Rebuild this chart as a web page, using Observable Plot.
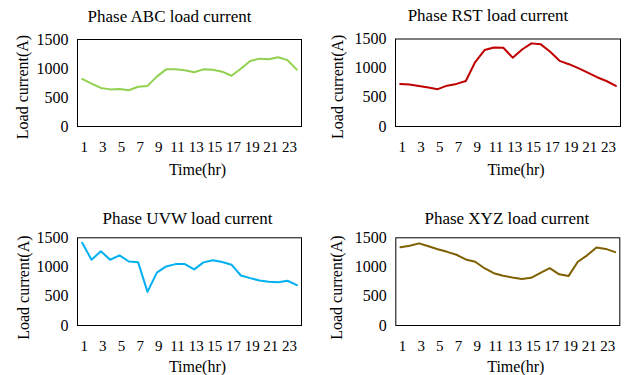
<!DOCTYPE html>
<html><head><meta charset="utf-8">
<script src="https://cdn.jsdelivr.net/npm/d3@7"></script>
<script src="https://cdn.jsdelivr.net/npm/@observablehq/plot@0.6"></script>
<style>
html,body{margin:0;padding:0;background:#fff;}
#grid{display:grid;grid-template-columns:316px 316px;width:632px;}
#grid svg{display:block;}
</style></head><body><div id="grid"></div>
<script>
const hours = [1,2,3,4,5,6,7,8,9,10,11,12,13,14,15,16,17,18,19,20,21,22,23,24];
const xTicks = [1,3,5,7,9,11,13,15,17,19,21,23];
const yTicks = [0,500,1000,1500];
const abc = [820,740,665,640,645,625,685,700,860,985,985,970,935,985,980,945,875,995,1130,1170,1160,1195,1145,980];
const rst = [730,720,695,667,640,700,730,780,1105,1310,1355,1350,1180,1320,1425,1408,1280,1126,1068,1000,925,845,780,695];
const uvw = [1415,1125,1270,1125,1200,1095,1080,575,905,1010,1050,1050,960,1080,1115,1085,1040,855,810,770,750,740,765,690];
const xyz = [1340,1365,1405,1355,1305,1260,1210,1130,1090,980,895,850,820,795,815,900,980,875,845,1090,1200,1335,1310,1255];
const titles = ["Phase ABC load current","Phase RST load current","Phase UVW load current","Phase XYZ load current"];
const yLabel = "Load current(A)";
const xLabel = "Time(hr)";

const panels = [
  {title:titles[0], values:abc, color:"#92d050", h:190, ml:77, mr:15, mt:39, mb:64, tdx:-20, tdy:-23, ldx:-55, ldy:4, xdy:43},
  {title:titles[1], values:rst, color:"#c00000", h:190, ml:79, mr:12, mt:38.5, mb:64, tdx:-20, tdy:-23, ldx:-58, ldy:4, xdy:43},
  {title:titles[2], values:uvw, color:"#00b0f0", h:185, ml:77, mr:15, mt:47.3, mb:50, tdx:-2, tdy:-19, ldx:-54, ldy:6, xdy:41},
  {title:titles[3], values:xyz, color:"#7f6000", h:185, ml:79.3, mr:12.7, mt:47.3, mb:50, tdx:-1, tdy:-19, ldx:-58.5, ldy:6, xdy:41}
];

const font = "'Liberation Serif', 'Times New Roman', serif";
const grid = document.getElementById("grid");
for (const p of panels) {
  const data = hours.map((h, i) => ({hour: h, value: p.values[i]}));
  const chart = Plot.plot({
    width: 316, height: p.h,
    marginLeft: p.ml, marginRight: p.mr, marginTop: p.mt, marginBottom: p.mb,
    style: {fontFamily: font, fontSize: "16px", color: "black", background: "white", overflow: "visible"},
    x: {domain: [0.5, 24.5]},
    y: {domain: [0, 1500]},
    marks: [
      Plot.axisX({ticks: xTicks, tickSize: 0, tickPadding: 15, fontSize: 15, dx: 2, label: null, tickFormat: d => String(d)}),
      Plot.axisY({ticks: yTicks, tickSize: 0, tickPadding: 9, fontSize: 16, label: null, tickFormat: d => String(d)}),
      Plot.frame({stroke: "black", strokeWidth: 1}),
      Plot.line(data, {x: "hour", y: "value", stroke: p.color, strokeWidth: 2}),
      Plot.text([p.title], {text: d => d, frameAnchor: "top", textAnchor: "middle", lineAnchor: "middle", dx: p.tdx, dy: p.tdy, fontSize: 17, fill: "black"}),
      Plot.text([yLabel], {text: d => d, frameAnchor: "left", textAnchor: "middle", lineAnchor: "middle", rotate: -90, dx: p.ldx, dy: p.ldy, fontSize: 16, fill: "black"}),
      Plot.text([xLabel], {text: d => d, frameAnchor: "bottom", textAnchor: "middle", lineAnchor: "middle", dx: 8, dy: p.xdy, fontSize: 16, fill: "black"})
    ]
  });
  grid.appendChild(chart);
}
</script></body></html>
